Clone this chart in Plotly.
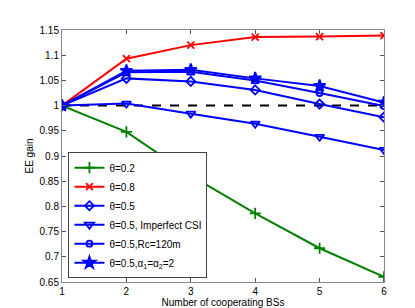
import plotly.graph_objects as go

x_bs = [1, 2, 3, 4, 5, 6]
theta02 = [1.0, 0.948, 0.861, 0.786, 0.717, 0.660]
theta08 = [1.0, 1.093, 1.120, 1.136, 1.137, 1.139]
theta05 = [1.0, 1.054, 1.048, 1.031, 1.003, 0.977]
theta05_csi = [1.0, 1.004, 0.984, 0.964, 0.938, 0.912]
theta05_rc = [1.0, 1.066, 1.067, 1.050, 1.025, 0.999]
theta05_alpha = [1.0, 1.069, 1.071, 1.054, 1.039, 1.006]
baseline = [1.0, 1.0]
baseline_x = [1, 6]

names = ["θ=0.2", "θ=0.8", "θ=0.5", "θ=0.5, Imperfect CSI", "θ=0.5,Rc=120m",
         "θ=0.5,α<sub>1</sub>=α<sub>2</sub>=2"]
series = [theta02, theta08, theta05, theta05_csi, theta05_rc, theta05_alpha]
colors = ["#008000", "#ff0000", "#0000ff", "#0000ff", "#0000ff", "#0000ff"]
symbols = ["cross-thin-open", "x-thin-open", "diamond-open", "triangle-down-open", "circle-open", "star"]
sizes = [8, 7, 7, 8, 6, 9]

fig = go.Figure()
fig.add_trace(go.Scatter(x=baseline_x, y=baseline, mode="lines",
                         line=dict(color="black", width=2, dash="dash"), showlegend=False))
for n, s, c, m, sz in zip(names, series, colors, symbols, sizes):
    fig.add_trace(go.Scatter(x=x_bs, y=s, name=n, mode="lines+markers",
                             line=dict(color=c, width=2),
                             marker=dict(symbol=m, size=sz, color=c, line=dict(color=c, width=1.8))))

axis_common = dict(showgrid=False, zeroline=False, ticks="inside", ticklen=4,
                   tickcolor="#555555", linecolor="#888888", linewidth=1, mirror="ticks",
                   tickfont=dict(size=10, color="black"))
fig.update_xaxes(range=[1, 6], tickvals=[1, 2, 3, 4, 5, 6],
                 title=dict(text="Number of cooperating BSs", font=dict(size=10), standoff=0),
                 **axis_common)
fig.update_yaxes(range=[0.65, 1.15], tickvals=[0.65, 0.7, 0.75, 0.8, 0.85, 0.9, 0.95, 1, 1.05, 1.1, 1.15],
                 ticktext=["0.65", "0.7", "0.75", "0.8", "0.85", "0.9", "0.95", "1", "1.05", "1.1", "1.15"],
                 title=dict(text="EE gain", font=dict(size=10), standoff=4),
                 **axis_common)
fig.update_layout(
    width=415, height=308,
    margin=dict(l=54, r=39, t=22, b=34),
    paper_bgcolor="white", plot_bgcolor="white",
    font=dict(family="Liberation Sans, Arial, sans-serif", size=10, color="black"),
    legend=dict(x=0.02, y=0.015, xanchor="left", yanchor="bottom",
                bgcolor="white", bordercolor="#444444", borderwidth=1,
                font=dict(size=10), tracegroupgap=0, itemwidth=30),
)
fig.write_html("out.html")
